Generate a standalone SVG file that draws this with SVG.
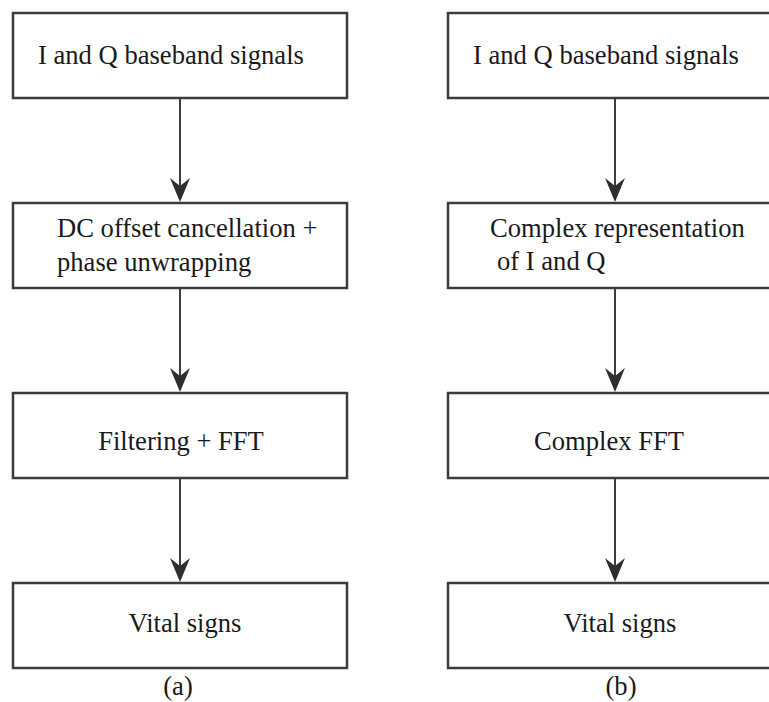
<svg xmlns="http://www.w3.org/2000/svg" xmlns:xlink="http://www.w3.org/1999/xlink" width="769" height="702" viewBox="0 0 769 702">
  <style>
    .box { fill: #ffffff; stroke: #3c3c3c; stroke-width: 2.5; }
    .lbl { font-family: "Liberation Serif", "Times New Roman", serif; font-size: 26.6px; fill: #1a1a1a; }
    .mid { text-anchor: middle; }
    .conn { stroke: #3c3c3c; stroke-width: 2; fill: none; }
    .head { fill: #2e2e2e; }
  </style>
  <defs>
    <path id="ah" d="M-10,-24 L0,0 L10,-24 L0,-16 Z"/>
  </defs>
  <rect width="769" height="702" fill="#ffffff"/>

  <g id="connectors">
    <line class="conn" x1="180" y1="99" x2="180" y2="190"/>
    <use href="#ah" xlink:href="#ah" class="head" x="180" y="202"/>
    <line class="conn" x1="180" y1="289" x2="180" y2="380"/>
    <use href="#ah" xlink:href="#ah" class="head" x="180" y="392"/>
    <line class="conn" x1="180" y1="479" x2="180" y2="570"/>
    <use href="#ah" xlink:href="#ah" class="head" x="180" y="582"/>

    <line class="conn" x1="615" y1="99" x2="615" y2="190"/>
    <use href="#ah" xlink:href="#ah" class="head" x="615" y="202"/>
    <line class="conn" x1="615" y1="289" x2="615" y2="380"/>
    <use href="#ah" xlink:href="#ah" class="head" x="615" y="392"/>
    <line class="conn" x1="615" y1="479" x2="615" y2="570"/>
    <use href="#ah" xlink:href="#ah" class="head" x="615" y="582"/>
  </g>

  <g id="a1">
    <rect class="box" x="13" y="13" width="334" height="85"/>
    <text class="lbl" x="38" y="64">I and Q baseband signals</text>
  </g>
  <g id="a2">
    <rect class="box" x="13" y="203" width="334" height="85"/>
    <text class="lbl" x="57" y="237">DC offset cancellation +</text>
    <text class="lbl" x="57" y="271">phase unwrapping</text>
  </g>
  <g id="a3">
    <rect class="box" x="13" y="393" width="334" height="85"/>
    <text class="lbl mid" x="181" y="450">Filtering + FFT</text>
  </g>
  <g id="a4">
    <rect class="box" x="13" y="583" width="334" height="85"/>
    <text class="lbl mid" x="185" y="632">Vital signs</text>
  </g>
  <g id="caption-a">
    <text class="lbl mid" x="178" y="695">(a)</text>
  </g>

  <g id="b1">
    <rect class="box" x="448" y="13" width="336" height="85"/>
    <text class="lbl" x="473" y="64">I and Q baseband signals</text>
  </g>
  <g id="b2">
    <rect class="box" x="448" y="203" width="336" height="85"/>
    <text class="lbl" x="490" y="237">Complex representation</text>
    <text class="lbl" x="497" y="270">of I and Q</text>
  </g>
  <g id="b3">
    <rect class="box" x="448" y="393" width="336" height="85"/>
    <text class="lbl mid" x="609" y="450">Complex FFT</text>
  </g>
  <g id="b4">
    <rect class="box" x="448" y="583" width="336" height="85"/>
    <text class="lbl mid" x="620" y="632">Vital signs</text>
  </g>
  <g id="caption-b">
    <text class="lbl mid" x="621" y="695">(b)</text>
  </g>
</svg>
